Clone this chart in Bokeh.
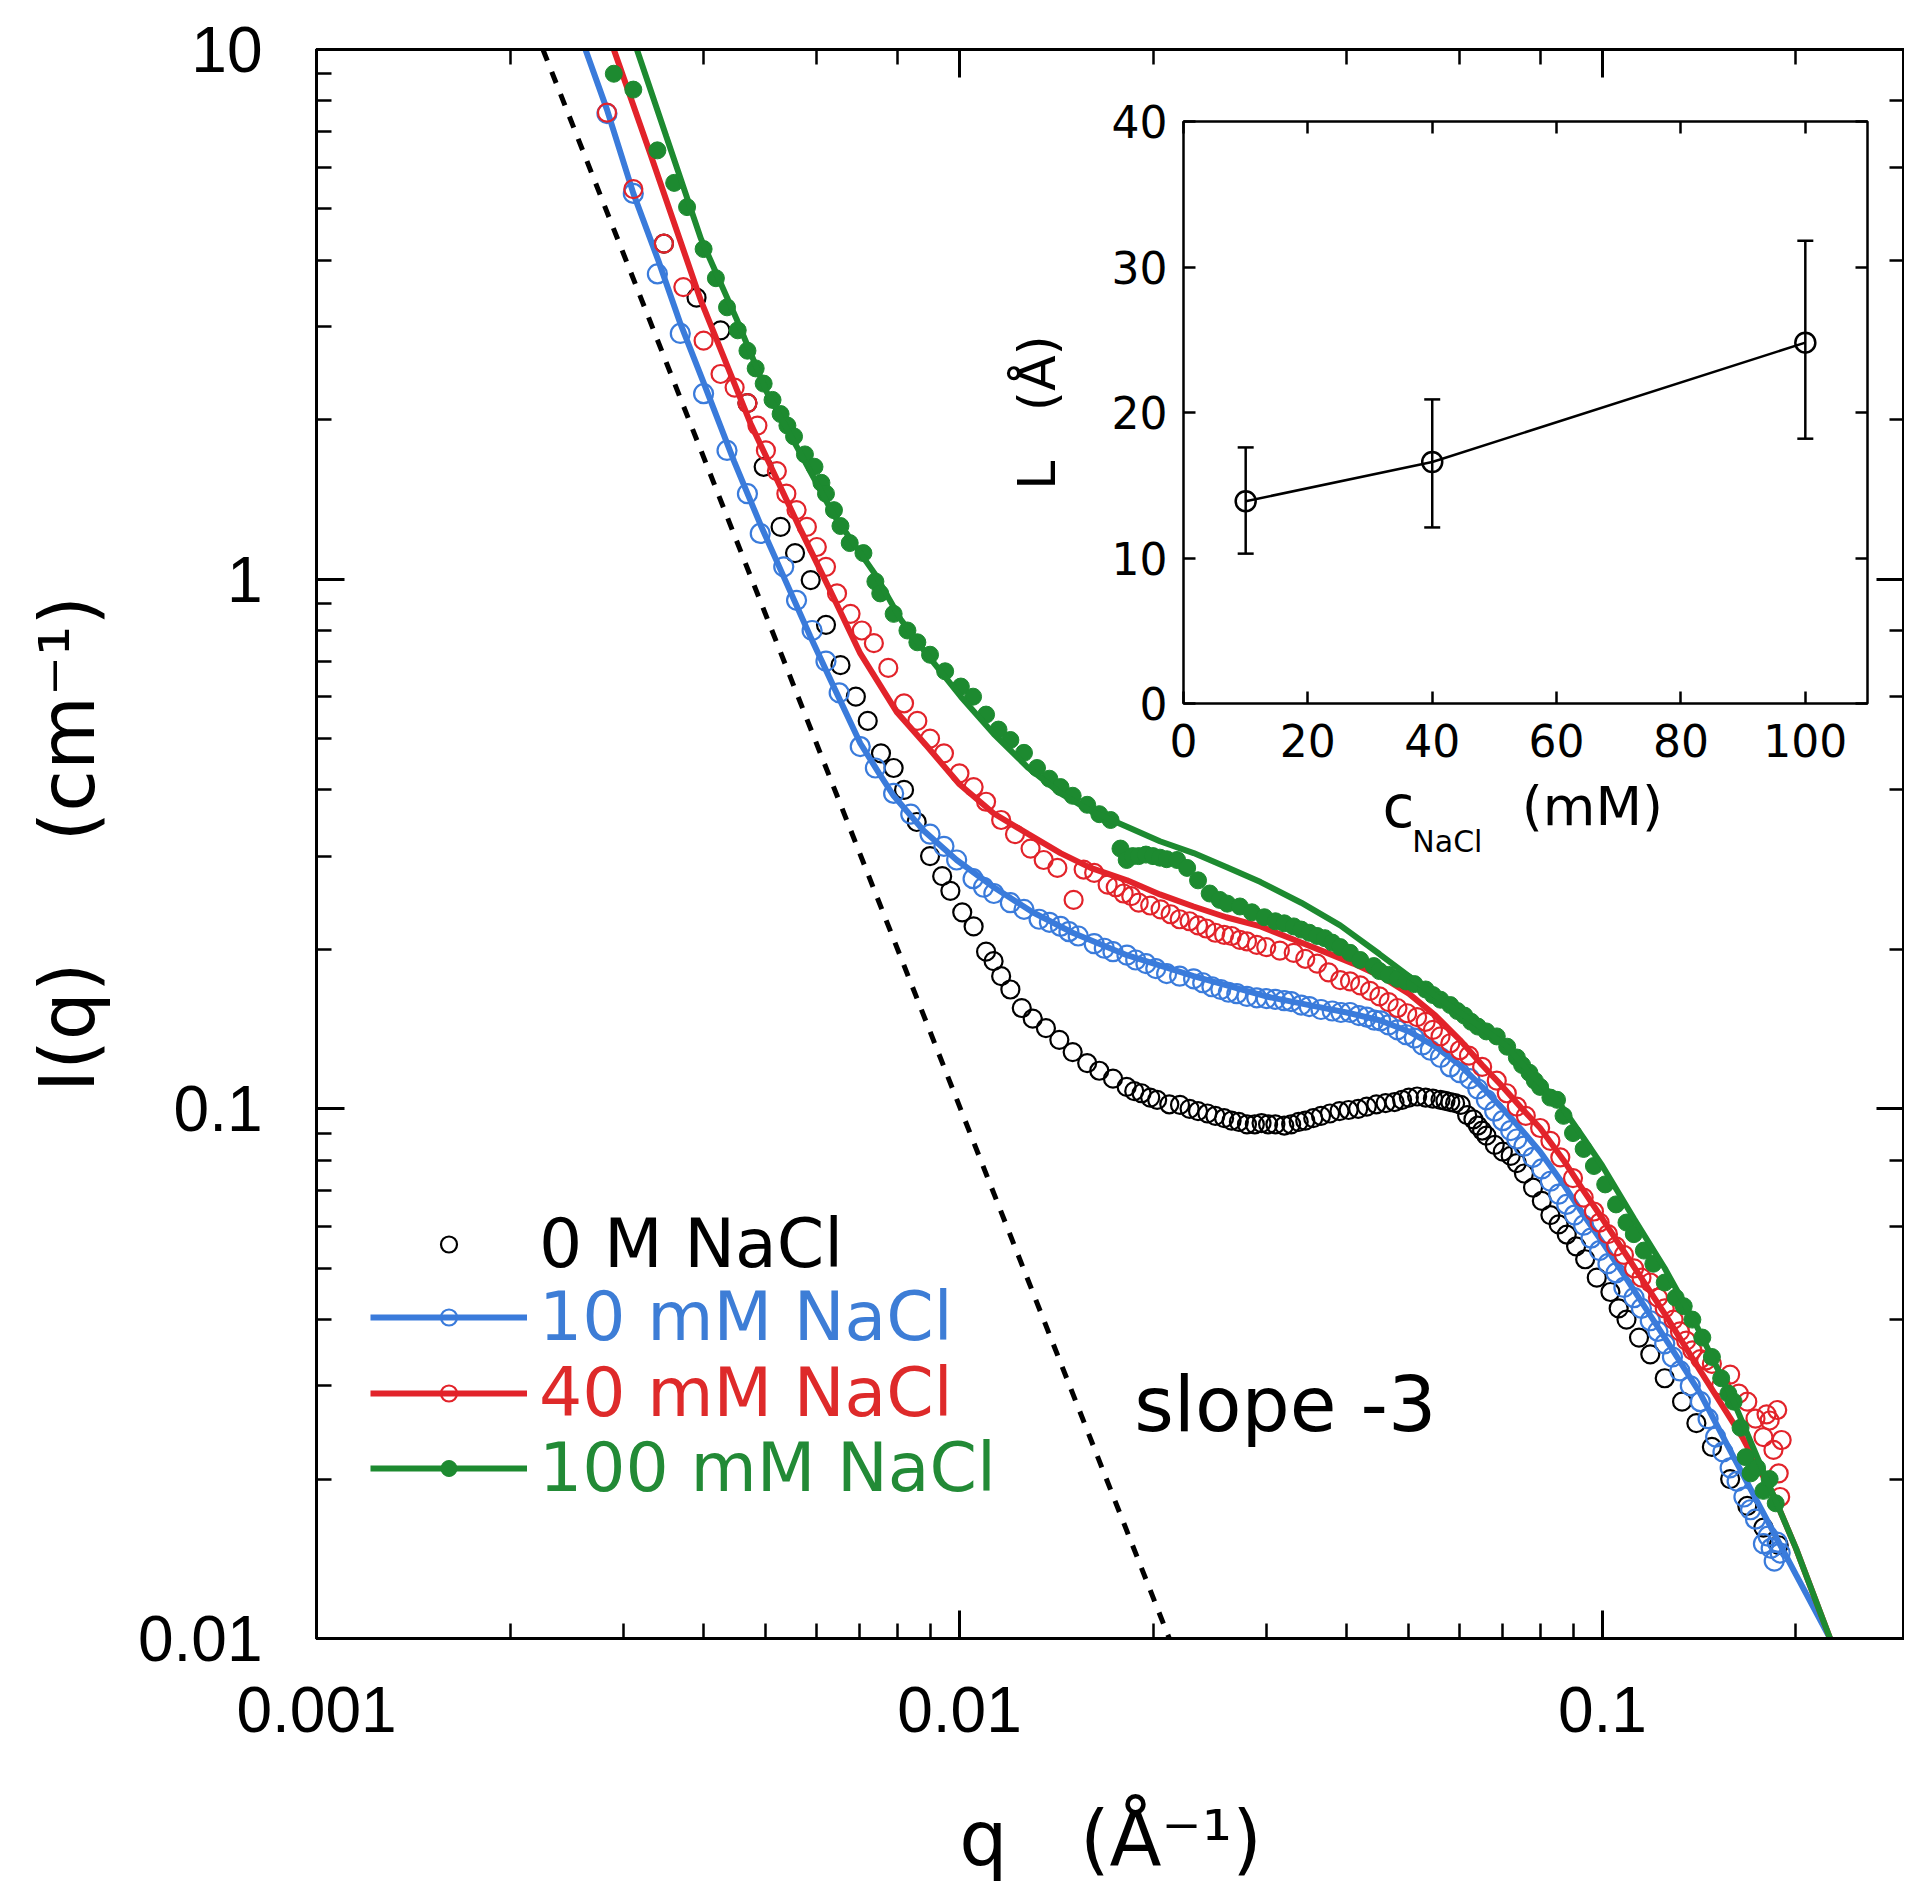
import numpy as np
from bokeh.plotting import figure
from bokeh.models import (LogAxis, LinearAxis, Range1d, LinearScale, FixedTicker,
                          Label, Legend, LegendItem, Whisker, TeeHead, ColumnDataSource,
                          CustomJSTickFormatter)
from bokeh.embed import file_html
from bokeh.resources import INLINE

# ---------------- data ----------------
q_0M = [0.00347, 0.00390, 0.00425, 0.00468, 0.00496, 0.00527, 0.00555, 0.00587, 0.00620, 0.00653,
        0.00690, 0.00720, 0.00755, 0.00790, 0.00820, 0.00858, 0.00900, 0.00940, 0.00968, 0.01010,
        0.01052, 0.01100, 0.01130, 0.01161, 0.01200, 0.01250, 0.01300, 0.01363, 0.01430, 0.01500,
        0.01580, 0.01650, 0.01733, 0.01820, 0.01870, 0.01920, 0.01980, 0.02030, 0.02120, 0.02203,
        0.02280, 0.02350, 0.02430, 0.02500, 0.02580, 0.02650, 0.02720, 0.02800, 0.02880, 0.02950,
        0.03020, 0.03100, 0.03200, 0.03280, 0.03370, 0.03450, 0.03550, 0.03650, 0.03770, 0.03900,
        0.04030, 0.04170, 0.04300, 0.04450, 0.04600, 0.04750, 0.04880, 0.05000, 0.05150, 0.05310,
        0.05450, 0.05600, 0.05700, 0.05800, 0.05900, 0.06020, 0.06160, 0.06300, 0.06400, 0.06500,
        0.06600, 0.06800, 0.07000, 0.07200, 0.07360, 0.07550, 0.07800, 0.08050, 0.08300, 0.08550,
        0.08800, 0.09100, 0.09400, 0.09800, 0.10290, 0.10600, 0.10900, 0.11400, 0.11870, 0.12500,
        0.13300, 0.14000, 0.14800, 0.15800, 0.16800, 0.17800, 0.18800]
I_0M = [4.30, 3.40, 2.95, 2.15, 1.63, 1.255, 1.12, 0.996, 0.82, 0.688,
        0.60, 0.54, 0.469, 0.44, 0.40, 0.348, 0.30, 0.275, 0.258, 0.235,
        0.221, 0.198, 0.190, 0.178, 0.168, 0.155, 0.148, 0.142, 0.135, 0.128,
        0.122, 0.118, 0.114, 0.110, 0.108, 0.107, 0.105, 0.104, 0.102, 0.1017,
        0.100, 0.099, 0.098, 0.097, 0.096, 0.095, 0.0945, 0.0935, 0.0935, 0.094,
        0.0935, 0.0935, 0.093, 0.0935, 0.0945, 0.095, 0.096, 0.097, 0.098, 0.099,
        0.0995, 0.100, 0.101, 0.102, 0.1025, 0.103, 0.104, 0.105, 0.1055, 0.105,
        0.1045, 0.104, 0.1035, 0.103, 0.1025, 0.1017, 0.0973, 0.0955, 0.093, 0.091,
        0.089, 0.0855, 0.083, 0.0815, 0.079, 0.0755, 0.071, 0.067, 0.063, 0.0605,
        0.0579, 0.055, 0.052, 0.048, 0.0451, 0.042, 0.040, 0.037, 0.0344, 0.031,
        0.028, 0.0255, 0.023, 0.020, 0.0178, 0.0162, 0.0150]

q_10mM = [0.00283, 0.00311, 0.00339, 0.00368, 0.00400, 0.00435, 0.00468, 0.00490, 0.00533, 0.00558,
          0.00590, 0.00620, 0.00650, 0.00701, 0.00740, 0.00790, 0.00840, 0.00900, 0.00946, 0.00990,
          0.01050, 0.01090, 0.01131, 0.01200, 0.01260, 0.01330, 0.01380, 0.01436, 0.01480, 0.01530,
          0.01620, 0.01680, 0.01733, 0.01822, 0.01880, 0.01950, 0.02020, 0.02100, 0.02200, 0.02313,
          0.02390, 0.02470, 0.02550, 0.02620, 0.02700, 0.02800, 0.02900, 0.03000, 0.03100, 0.03200,
          0.03280, 0.03400, 0.03500, 0.03650, 0.03800, 0.03920, 0.04050, 0.04180, 0.04300, 0.04420,
          0.04520, 0.04650, 0.04800, 0.04950, 0.05100, 0.05250, 0.05400, 0.05600, 0.05800, 0.06000,
          0.06220, 0.06400, 0.06600, 0.06800, 0.07000, 0.07200, 0.07360, 0.07550, 0.07800, 0.08050,
          0.08300, 0.08550, 0.08800, 0.09050, 0.09350, 0.09600, 0.09900, 0.10200, 0.10500, 0.10800,
          0.11200, 0.11500, 0.11870, 0.12200, 0.12500, 0.12850, 0.13200, 0.13700, 0.14200, 0.14600,
          0.15000, 0.15400, 0.15800, 0.16200, 0.16600, 0.17000, 0.17300, 0.17800, 0.18100, 0.18300,
          0.18500, 0.18700, 0.18900]
I_10mM = [7.57, 5.35, 3.77, 2.91, 2.24, 1.75, 1.45, 1.22, 1.055, 0.912,
          0.80, 0.70, 0.61, 0.483, 0.44, 0.394, 0.36, 0.33, 0.313, 0.295,
          0.272, 0.262, 0.255, 0.245, 0.238, 0.228, 0.225, 0.221, 0.216, 0.212,
          0.205, 0.201, 0.198, 0.195, 0.191, 0.188, 0.184, 0.180, 0.178, 0.176,
          0.173, 0.170, 0.168, 0.166, 0.165, 0.163, 0.162, 0.1615, 0.161, 0.160,
          0.1594, 0.157, 0.156, 0.154, 0.153, 0.152, 0.152, 0.150, 0.149, 0.147,
          0.1466, 0.144, 0.141, 0.138, 0.136, 0.132, 0.129, 0.125, 0.120, 0.117,
          0.114, 0.109, 0.104, 0.099, 0.095, 0.091, 0.0877, 0.085, 0.081, 0.077,
          0.073, 0.069, 0.066, 0.063, 0.0603, 0.057, 0.054, 0.051, 0.049, 0.046,
          0.044, 0.042, 0.0398, 0.038, 0.036, 0.034, 0.032, 0.030, 0.028, 0.026,
          0.024, 0.0225, 0.021, 0.0198, 0.0185, 0.0175, 0.0168, 0.0151, 0.0156, 0.0148,
          0.0140, 0.0152, 0.0145]

q_40mM = [0.00283, 0.00311, 0.00347, 0.00372, 0.00400, 0.00425, 0.00447, 0.00468, 0.00485, 0.00500,
          0.00520, 0.00538, 0.00558, 0.00579, 0.00600, 0.00620, 0.00645, 0.00677, 0.00705, 0.00736,
          0.00775, 0.00820, 0.00860, 0.00900, 0.00946, 0.01000, 0.01052, 0.01100, 0.01161, 0.01220,
          0.01290, 0.01352, 0.01420, 0.01505, 0.01560, 0.01620, 0.01700, 0.01750, 0.01800, 0.01850,
          0.01900, 0.01980, 0.02055, 0.02130, 0.02200, 0.02280, 0.02350, 0.02420, 0.02500, 0.02580,
          0.02650, 0.02730, 0.02800, 0.02900, 0.03000, 0.03150, 0.03310, 0.03450, 0.03600, 0.03750,
          0.03910, 0.04050, 0.04200, 0.04350, 0.04500, 0.04650, 0.04800, 0.04970, 0.05150, 0.05310,
          0.05450, 0.05600, 0.05800, 0.06000, 0.06200, 0.06500, 0.06850, 0.07100, 0.07360, 0.07600,
          0.08000, 0.08300, 0.08600, 0.09000, 0.09350, 0.09700, 0.09900, 0.10200, 0.10500, 0.10800,
          0.11200, 0.11500, 0.11870, 0.12200, 0.12500, 0.12900, 0.13200, 0.13500, 0.13800, 0.14200,
          0.14500, 0.14800, 0.15300, 0.15800, 0.16300, 0.16800, 0.17300, 0.17800, 0.18000, 0.18200,
          0.18450, 0.18700, 0.18800, 0.18900, 0.19000]
I_40mM = [7.60, 5.45, 4.30, 3.56, 2.82, 2.44, 2.30, 2.15, 1.95, 1.75,
          1.60, 1.45, 1.35, 1.255, 1.15, 1.055, 0.94, 0.86, 0.80, 0.757,
          0.68, 0.583, 0.54, 0.50, 0.469, 0.43, 0.405, 0.38, 0.351, 0.33,
          0.31, 0.295, 0.285, 0.248, 0.283, 0.279, 0.265, 0.262, 0.255, 0.252,
          0.245, 0.242, 0.238, 0.233, 0.228, 0.226, 0.222, 0.219, 0.215, 0.213,
          0.212, 0.2085, 0.207, 0.204, 0.202, 0.199, 0.197, 0.192, 0.188, 0.181,
          0.175, 0.174, 0.171, 0.167, 0.163, 0.159, 0.155, 0.1515, 0.149, 0.146,
          0.141, 0.137, 0.133, 0.129, 0.126, 0.120, 0.113, 0.107, 0.101, 0.097,
          0.092, 0.087, 0.081, 0.074, 0.068, 0.064, 0.061, 0.058, 0.055, 0.053,
          0.050, 0.048, 0.047, 0.044, 0.042, 0.040, 0.038, 0.0365, 0.035, 0.0337,
          0.0335, 0.033, 0.030, 0.0315, 0.029, 0.028, 0.026, 0.024, 0.0265, 0.0258,
          0.0227, 0.027, 0.0205, 0.0185, 0.0237]

q_100mM = [0.00290, 0.00311, 0.00339, 0.00360, 0.00377, 0.00400, 0.00418, 0.00435, 0.00452, 0.00468,
           0.00482, 0.00496, 0.00512, 0.00527, 0.00540, 0.00553, 0.00575, 0.00595, 0.00610, 0.00620,
           0.00638, 0.00653, 0.00675, 0.00709, 0.00740, 0.00753, 0.00790, 0.00830, 0.00860, 0.00900,
           0.00950, 0.01005, 0.01050, 0.01100, 0.01150, 0.01200, 0.01260, 0.01320, 0.01380, 0.01436,
           0.01500, 0.01580, 0.01650, 0.01718, 0.01780, 0.01820, 0.01860, 0.01900, 0.01950, 0.02000,
           0.02050, 0.02100, 0.02180, 0.02260, 0.02350, 0.02450, 0.02540, 0.02610, 0.02730, 0.02850,
           0.02980, 0.03100, 0.03200, 0.03310, 0.03400, 0.03500, 0.03600, 0.03700, 0.03800, 0.03910,
           0.04050, 0.04200, 0.04410, 0.04500, 0.04650, 0.04800, 0.04950, 0.05100, 0.05310, 0.05450,
           0.05600, 0.05800, 0.05950, 0.06100, 0.06250, 0.06400, 0.06600, 0.06850, 0.07110, 0.07360,
           0.07500, 0.07700, 0.07850, 0.08000, 0.08300, 0.08500, 0.08700, 0.09000, 0.09350, 0.09700,
           0.10100, 0.10500, 0.10900, 0.11190, 0.11600, 0.12000, 0.12500, 0.13000, 0.13380, 0.13800,
           0.14300, 0.14800, 0.15300, 0.15700, 0.16000, 0.16400, 0.16700, 0.17000, 0.17400, 0.17800,
           0.18200, 0.18600]
I_100mM = [9.0, 8.4, 6.45, 5.6, 5.04, 4.2, 3.7, 3.26, 2.95, 2.70,
           2.50, 2.34, 2.18, 2.05, 1.95, 1.86, 1.72, 1.63, 1.52, 1.45,
           1.35, 1.26, 1.17, 1.12, 0.99, 0.94, 0.86, 0.80, 0.76, 0.72,
           0.67, 0.627, 0.60, 0.555, 0.52, 0.497, 0.47, 0.44, 0.42, 0.405,
           0.39, 0.375, 0.36, 0.351, 0.31, 0.295, 0.300, 0.30, 0.302, 0.30,
           0.298, 0.296, 0.295, 0.285, 0.27, 0.255, 0.248, 0.244, 0.241, 0.235,
           0.23, 0.226, 0.224, 0.221, 0.218, 0.215, 0.212, 0.21, 0.206, 0.202,
           0.197, 0.191, 0.186, 0.182, 0.179, 0.176, 0.174, 0.172, 0.168, 0.164,
           0.1607, 0.157, 0.153, 0.150, 0.146, 0.143, 0.140, 0.137, 0.131, 0.125,
           0.121, 0.117, 0.113, 0.110, 0.105, 0.104, 0.097, 0.090, 0.084, 0.078,
           0.072, 0.066, 0.061, 0.058, 0.054, 0.051, 0.047, 0.044, 0.0424, 0.040,
           0.037, 0.034, 0.031, 0.029, 0.028, 0.025, 0.022, 0.0205, 0.021, 0.019,
           0.020, 0.018]

# model fits (solid lines)
q_fit_10mM = [0.00262, 0.00283, 0.00311, 0.00340, 0.00368, 0.00400, 0.00446, 0.00490, 0.00533, 0.00586,
              0.00640, 0.00701, 0.00750, 0.00790, 0.00880, 0.00990, 0.01131, 0.01300, 0.01500, 0.01822,
              0.02313, 0.03000, 0.03500, 0.04000, 0.04500, 0.05000, 0.05500, 0.06000, 0.06500, 0.07000,
              0.07500, 0.08000, 0.08700, 0.09350, 0.10000, 0.11000, 0.12500, 0.14200, 0.16000, 0.18000,
              0.20000, 0.22600]
I_fit_10mM = [10.0, 7.7, 5.35, 4.0, 3.04, 2.35, 1.67, 1.27, 1.01, 0.78,
              0.62, 0.49, 0.43, 0.39, 0.335, 0.295, 0.262, 0.235, 0.215, 0.195,
              0.178, 0.163, 0.157, 0.152, 0.147, 0.140, 0.131, 0.121, 0.110, 0.100,
              0.091, 0.083, 0.072, 0.063, 0.056, 0.047, 0.037, 0.029, 0.022, 0.0168,
              0.0132, 0.0100]
q_fit_40mM = [0.00290, 0.00331, 0.00396, 0.00473, 0.00566, 0.00630, 0.00701, 0.00800, 0.00891, 0.01000,
              0.01131, 0.01280, 0.01436, 0.01600, 0.01822, 0.02050, 0.02313, 0.02600, 0.02940, 0.03300,
              0.03730, 0.04100, 0.04520, 0.05000, 0.05500, 0.06000, 0.06500, 0.07000, 0.07500, 0.08000,
              0.08700, 0.09350, 0.10000, 0.11000, 0.12500, 0.14200, 0.16500, 0.18500, 0.20000, 0.22600]
I_fit_40mM = [10.0, 6.32, 3.36, 1.97, 1.24, 0.95, 0.724, 0.56, 0.483, 0.41,
              0.361, 0.33, 0.304, 0.285, 0.27, 0.254, 0.241, 0.230, 0.221, 0.209,
              0.197, 0.188, 0.178, 0.165, 0.150, 0.135, 0.121, 0.110, 0.100, 0.092,
              0.080, 0.070, 0.062, 0.052, 0.041, 0.032, 0.024, 0.0185, 0.0148, 0.0100]
q_fit_100mM = [0.00315, 0.00350, 0.00396, 0.00450, 0.00502, 0.00570, 0.00638, 0.00740, 0.00810, 0.00891,
               0.01005, 0.01131, 0.01280, 0.01436, 0.01600, 0.01822, 0.02050, 0.02313, 0.02600, 0.02940,
               0.03400, 0.03910, 0.04500, 0.05000, 0.05600, 0.06300, 0.07110, 0.07800, 0.08500, 0.09350,
               0.10000, 0.11200, 0.12500, 0.14000, 0.16000, 0.18000, 0.20000, 0.22600]
I_fit_100mM = [10.0, 6.85, 4.4, 3.1, 2.25, 1.7, 1.32, 1.02, 0.84, 0.72,
               0.60, 0.51, 0.44, 0.394, 0.365, 0.341, 0.320, 0.304, 0.286, 0.268,
               0.245, 0.222, 0.196, 0.178, 0.161, 0.146, 0.131, 0.115, 0.104, 0.088,
               0.078, 0.062, 0.050, 0.039, 0.028, 0.020, 0.0148, 0.0100]

# power-law guide, slope -3
q_slope = [0.00225, 0.0212]
I_slope = [10.0, 0.01]

# inset: L versus salt concentration
c_nacl = [10, 40, 100]
L_vals = [13.9, 16.6, 24.8]
L_lower = [10.3, 12.1, 18.2]
L_upper = [17.6, 20.9, 31.8]
inset_x_lim = [0, 110]
inset_y_lim = [0, 40]
inset_x_ticks = [0, 20, 40, 60, 80, 100]
inset_y_ticks = [0, 10, 20, 30, 40]

series_labels = ["0 M NaCl", "10 mM NaCl", "40 mM NaCl", "100 mM NaCl"]

# ---------------- styling ----------------
BLUE = "#3a7bdb"
RED = "#e2232a"
GREEN = "#1d8a30"
TXT_BLUE = "#3d7dd6"
TXT_RED = "#de2a2a"
TXT_GREEN = "#228a36"
NB = "\u00a0"

W, H = 1904, 1885
BL, BR, BT, BB = 316, 0, 49, 247
XR = (0.001, 0.295)
YR = (0.01, 10)

p = figure(width=W, height=H, x_axis_type="log", y_axis_type="log",
           x_range=Range1d(*XR), y_range=Range1d(*YR),
           output_backend="svg", toolbar_location=None,
           min_border_left=BL, min_border_right=BR, min_border_top=BT, min_border_bottom=BB)
p.grid.visible = False
p.outline_line_color = "black"
p.outline_line_width = 3
p.background_fill_color = "white"
p.border_fill_color = "white"

fmt = CustomJSTickFormatter(code="return String(Number(tick.toPrecision(4)));")
blank = CustomJSTickFormatter(code="return '';")


def style_main(ax, show_labels):
    ax.axis_line_width = 3
    ax.major_tick_in = 28
    ax.major_tick_out = 0
    ax.minor_tick_in = 15
    ax.minor_tick_out = 0
    ax.major_tick_line_width = 3
    ax.minor_tick_line_width = 2.5
    if show_labels:
        ax.formatter = fmt
        ax.major_label_text_font = "Liberation Sans"
        ax.major_label_text_font_size = "64px"
        ax.major_label_text_color = "black"
        ax.axis_label_text_font = "DejaVu Sans"
        ax.axis_label_text_font_size = "76px"
        ax.axis_label_text_font_style = "normal"
        ax.axis_label_text_color = "black"
    else:
        ax.formatter = blank
        ax.major_label_text_font_size = "10px"
        ax.major_label_standoff = 0


style_main(p.xaxis[0], True)
style_main(p.yaxis[0], True)
p.xaxis[0].axis_label = "q" + NB * 3 + "(Å⁻¹)"
p.yaxis[0].axis_label = "I(q)" + NB * 5 + "(cm⁻¹)"
p.xaxis[0].major_label_standoff = 48
p.xaxis[0].axis_label_standoff = 59
p.yaxis[0].major_label_standoff = 54
p.yaxis[0].axis_label_standoff = 23

top_ax = LogAxis()
right_ax = LogAxis()
style_main(top_ax, False)
style_main(right_ax, False)
p.add_layout(top_ax, "above")
p.add_layout(right_ax, "right")

# ---------------- main data ----------------
r_0 = p.scatter(q_0M, I_0M, marker="circle", size=18, fill_color=None,
                line_color="black", line_width=2.2)
r_10s = p.scatter(q_10mM, I_10mM, marker="circle", size=19, fill_color=None,
                  line_color=BLUE, line_width=2.2)
r_10l = p.line(q_fit_10mM, I_fit_10mM, line_color=BLUE, line_width=6)
r_40s = p.scatter(q_40mM, I_40mM, marker="circle", size=18, fill_color=None,
                  line_color=RED, line_width=2.2)
r_40l = p.line(q_fit_40mM, I_fit_40mM, line_color=RED, line_width=6)
r_100s = p.scatter(q_100mM, I_100mM, marker="circle", size=17, fill_color=GREEN,
                   line_color=GREEN, line_width=1)
r_100l = p.line(q_fit_100mM, I_fit_100mM, line_color=GREEN, line_width=6)
p.line(q_slope, I_slope, line_color="black", line_width=5, line_dash="12 12")

p.add_layout(Label(x=0.0187, y=0.0277, text="slope -3", text_font="DejaVu Sans",
                   text_font_size="76px", text_color="black", text_baseline="middle"))

# ---------------- legends (one per series for coloured text) ----------------
leg_specs = [
    (series_labels[0], [r_0], "black", 355),
    (series_labels[1], [r_10l, r_10s], TXT_BLUE, 282),
    (series_labels[2], [r_40l, r_40s], TXT_RED, 206),
    (series_labels[3], [r_100l, r_100s], TXT_GREEN, 131),
]
for lab, rends, col, vy in leg_specs:
    leg = Legend(items=[LegendItem(label=lab, renderers=rends)], location=(54, vy),
                 glyph_width=157, glyph_height=40, label_height=40, label_standoff=12,
                 padding=0, margin=0, spacing=0, border_line_color=None,
                 background_fill_alpha=0, label_text_color=col,
                 label_text_font="DejaVu Sans", label_text_font_size="68px")
    p.add_layout(leg)

# ---------------- inset (drawn in the same canvas on its own linear ranges) ----------------
FW, FH = W - BL - BR, H - BT - BB
fx0, fx1 = (1183 - BL) / FW, (1867 - BL) / FW
fy0, fy1 = (BT + FH - 703) / FH, (BT + FH - 121) / FH
ix0, ix1 = inset_x_lim
iy0, iy1 = inset_y_lim
sx = (ix1 - ix0) / (fx1 - fx0)
sy = (iy1 - iy0) / (fy1 - fy0)
p.extra_x_ranges = {"ins": Range1d(ix0 - fx0 * sx, ix1 + (1 - fx1) * sx)}
p.extra_y_ranges = {"insy": Range1d(iy0 - fy0 * sy, iy1 + (1 - fy1) * sy)}
p.extra_x_scales = {"ins": LinearScale()}
p.extra_y_scales = {"insy": LinearScale()}

p.quad(left=[ix0], right=[ix1], bottom=[iy0], top=[iy1], x_range_name="ins", y_range_name="insy",
       fill_color="white", line_color="black", line_width=2.5)


def inset_axis(side, loc, ticks, labels):
    ax = LinearAxis(x_range_name="ins", y_range_name="insy", fixed_location=loc,
                    ticker=FixedTicker(ticks=ticks, minor_ticks=[]))
    ax.axis_line_color = None
    ax.major_tick_in = 12
    ax.major_tick_out = 0
    ax.major_tick_line_width = 2.5
    ax.minor_tick_line_color = None
    if labels:
        ax.major_label_text_font = "DejaVu Sans"
        ax.major_label_text_font_size = "44px"
        ax.major_label_text_color = "black"
    else:
        ax.formatter = blank
        ax.major_label_text_font_size = "10px"
    p.add_layout(ax, side)
    return ax


ax_b = inset_axis("below", iy0, inset_x_ticks, True)
ax_b.major_label_standoff = 20
ax_l = inset_axis("left", ix0, inset_y_ticks, True)
ax_l.major_label_standoff = 16
inset_axis("above", iy1, inset_x_ticks, False)
inset_axis("right", ix1, inset_y_ticks, False)

p.line(c_nacl, L_vals, x_range_name="ins", y_range_name="insy", line_color="black", line_width=2.5)
p.scatter(c_nacl, L_vals, x_range_name="ins", y_range_name="insy", marker="circle", size=20,
          fill_color=None, line_color="black", line_width=2.5)
err_src = ColumnDataSource(dict(base=c_nacl, lower=L_lower, upper=L_upper))
wh = Whisker(source=err_src, base="base", lower="lower", upper="upper", dimension="height",
             x_range_name="ins", y_range_name="insy", line_width=2.5, level="annotation",
             upper_head=TeeHead(size=16, line_width=2.5), lower_head=TeeHead(size=16, line_width=2.5))
p.add_layout(wh)

p.add_layout(Label(x=-23.5, y=20, x_range_name="ins", y_range_name="insy",
                   text="L" + NB * 3 + "(Å)",
                   angle=np.pi / 2, text_align="center", text_baseline="middle",
                   text_font="DejaVu Sans", text_font_size="52px", text_color="black"))
p.add_layout(Label(x=32.0, y=-7.1, x_range_name="ins", y_range_name="insy", text="c",
                   text_baseline="alphabetic", text_font="DejaVu Sans", text_font_size="58px",
                   text_color="black"))
p.add_layout(Label(x=36.8, y=-9.5, x_range_name="ins", y_range_name="insy", text="NaCl",
                   text_baseline="alphabetic", text_font="DejaVu Sans", text_font_size="30px",
                   text_color="black"))
p.add_layout(Label(x=54.4, y=-7.1, x_range_name="ins", y_range_name="insy", text="(mM)",
                   text_baseline="alphabetic", text_font="DejaVu Sans", text_font_size="54px",
                   text_color="black"))

open("out.html", "w").write(file_html(p, INLINE))
